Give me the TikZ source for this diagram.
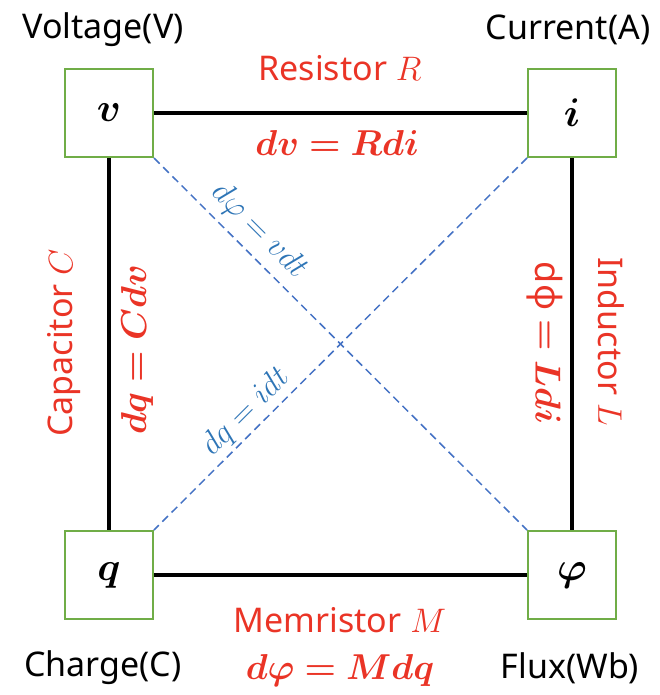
\RequirePackage{fix-cm}
\documentclass[tikz,border=0pt]{standalone}
\usepackage{fontspec}
\setmainfont{Noto Sans}
\usepackage{bm}
\definecolor{redtxt}{RGB}{234,52,38}
\definecolor{bluetxt}{RGB}{46,117,182}
\definecolor{dashblue}{RGB}{68,114,196}
\definecolor{boxgreen}{RGB}{112,173,71}
\begin{document}
\begin{tikzpicture}[x=1pt,y=-1pt,
  qbox/.style={draw=boxgreen, line width=2pt, fill=white, minimum size=88pt, inner sep=0pt, font=\fontsize{40}{46}\selectfont},
  wire/.style={line width=3.2pt, black},
  diag/.style={draw=dashblue, line width=1.5pt, dash pattern=on 8pt off 5pt},
  blk/.style={font=\fontsize{34}{40}\selectfont, inner sep=0pt},
  redlbl/.style={font=\fontsize{34}{40}\selectfont, text=redtxt, inner sep=0pt},
  redeq/.style={font=\fontsize{36}{42}\selectfont, text=redtxt, inner sep=0pt},
  bluelbl/.style={font=\fontsize{32}{38}\selectfont, text=bluetxt, inner sep=0pt}]
\useasboundingbox (0,0) rectangle (659,695);
% boxes
\node[qbox] (v) at (109,113) {$\bm{v}$};
\node[qbox] (i) at (572,113) {$\bm{i}$};
\node[qbox] (q) at (109,575) {$\bm{q}$};
\node[qbox] (p) at (572,575) {$\bm{\varphi}$};
% wires
\draw[wire] (v.east) -- (i.west);
\draw[wire] (q.east) -- (p.west);
\draw[wire] (v.south) -- (q.north);
\draw[wire] (i.south) -- (p.north);
% diagonals
\draw[diag] (v.south east) -- (p.north west);
\draw[diag] (i.south west) -- (q.north east);
% quantity labels
\node[blk] (lv) at (103,30) {Voltage(V)};
\node[blk] (li) at (568,30) {Current(A)};
\node[blk] (lq) at (103,668) {Charge(C)};
\node[blk] (lp) at (570,668) {Flux(Wb)};
% element labels
\node[redlbl] (lr) at (340,68) {Resistor $R$};
\node[redeq] (er) at (337,143) {$\bm{dv = Rdi}$};
\node[redlbl] (lm) at (340,620) {Memristor $M$};
\node[redeq] (em) at (340,670) {$\bm{d\varphi = Mdq}$};
\node[redlbl, rotate=90] (lc) at (64,343) {Capacitor $C$};
\node[redeq, rotate=90] (ec) at (137,350) {$\bm{dq = Cdv}$};
\node[redeq, rotate=-90] (el) at (545,343) {\textbf{dφ} $\bm{=}$ $\bm{Ldi}$};
\node[redlbl, rotate=-90] (ll) at (611,342) {Inductor $L$};
% diagonal labels
\node[bluelbl, rotate=-45] (ev) at (259,231) {$d\varphi = vdt$};
\node[bluelbl, rotate=45] (ei) at (246,412) {$dq = idt$};
\end{tikzpicture}
\end{document}
